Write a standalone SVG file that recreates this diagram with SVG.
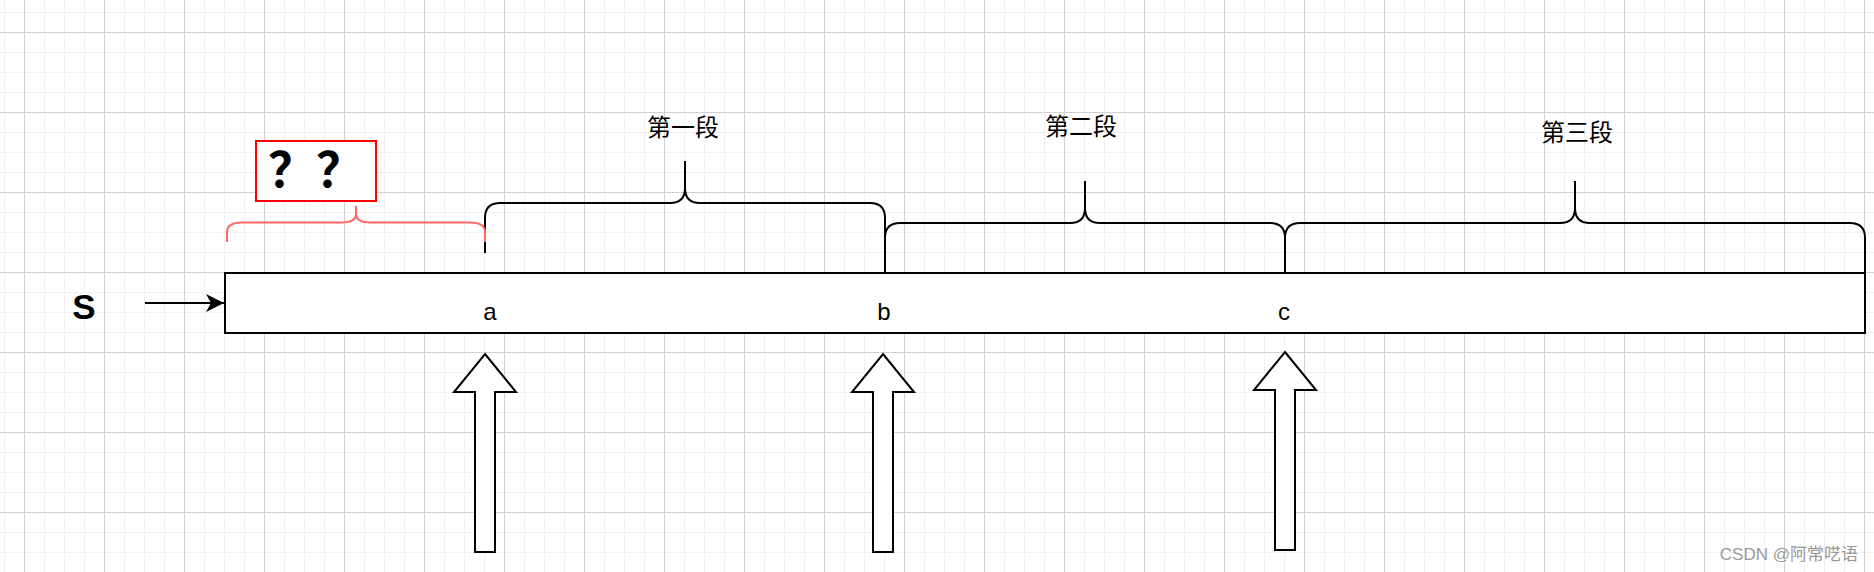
<svg xmlns="http://www.w3.org/2000/svg" width="1874" height="572" viewBox="0 0 1874 572">
<style>
.ln{fill:none;stroke:#000;stroke-width:2}
.red{fill:none;stroke:#FF6666;stroke-width:2}
.blk{fill:#fff;stroke:#000;stroke-width:2}
.lbl{font-family:"Noto Sans CJK SC","Liberation Sans",sans-serif;font-size:24px;fill:#000;text-anchor:middle}
.lat{font-family:"Liberation Sans",Arial,sans-serif;font-size:24px;fill:#000;text-anchor:middle}
</style>
<defs>
<pattern id="gmin" width="20" height="20" x="4" y="12" patternUnits="userSpaceOnUse">
<path d="M0.5,0 V20 M0,0.5 H20" stroke="#f0f0f0" stroke-width="1" fill="none"/>
</pattern>
<pattern id="gmaj" width="80" height="80" x="24" y="32" patternUnits="userSpaceOnUse">
<path d="M0.5,0 V80 M0,0.5 H80" stroke="#d0d0d0" stroke-width="1" fill="none"/>
</pattern>
<marker id="arr" markerUnits="userSpaceOnUse" markerWidth="20" markerHeight="20" viewBox="0 0 20 20" refX="18" refY="10" orient="auto">
<path d="M18,10 L0,1 L5,10 L0,19 Z" fill="#000"/>
</marker>
</defs>
<g id="background">
<rect width="1874" height="572" fill="#fff"/>
<rect width="1874" height="572" fill="url(#gmin)"/>
<rect width="1874" height="572" fill="url(#gmaj)"/>
</g>
<g id="bar">
<rect class="blk" x="225" y="273" width="1640" height="60"/>
<text class="lat" x="490" y="320">a</text>
<text class="lat" x="884" y="320">b</text>
<text class="lat" x="1284" y="320">c</text>
</g>
<g id="label-s">
<text x="84" y="319" font-family="Liberation Sans, Arial, sans-serif" font-size="35" font-weight="bold" text-anchor="middle">S</text>
</g>
<g id="brace-1">
<path class="ln" d="M485,253 V218 Q485,203 500,203 H670 Q685,203 685,188 V161 M685,188 Q685,203 700,203 H870 Q885,203 885,218 V253"/>
<text class="lbl" x="683" y="136">第一段</text>
</g>
<g id="brace-2">
<path class="ln" d="M885,273 V238 Q885,223 900,223 H1070 Q1085,223 1085,208 V181 M1085,208 Q1085,223 1100,223 H1270 Q1285,223 1285,238 V273"/>
<text class="lbl" x="1081" y="135">第二段</text>
</g>
<g id="brace-3">
<path class="ln" d="M1285,273 V238 Q1285,223 1300,223 H1560 Q1575,223 1575,208 V181 M1575,208 Q1575,223 1590,223 H1850 Q1865,223 1865,238 V273"/>
<text class="lbl" x="1577" y="141">第三段</text>
</g>
<g id="brace-red">
<path class="red" d="M227,242 V232 Q227,222.5 242,222.5 H341 Q356,222.5 356,214 V206 M356,214 Q356,222.5 371,222.5 H470 Q485,222.5 485,232 V242"/>
</g>
<g id="question">
<rect x="256" y="141" width="120" height="60" fill="#fff" stroke="#FF0000" stroke-width="2"/>
<text x="316" y="187" font-family="Noto Sans CJK SC, sans-serif" font-size="48" font-weight="bold" text-anchor="middle">？？</text>
</g>
<g id="arrow-a">
<path class="blk" d="M485,354 L516,392 L495,392 L495,552 L475,552 L475,392 L454,392 Z"/>
</g>
<g id="arrow-b">
<path class="blk" d="M883,354 L914,392 L893,392 L893,552 L873,552 L873,392 L852,392 Z"/>
</g>
<g id="arrow-c">
<path class="blk" d="M1285,352 L1316,390 L1295,390 L1295,550 L1275,550 L1275,390 L1254,390 Z"/>
</g>
<g id="connectors">
<line x1="145" y1="303" x2="224" y2="303" stroke="#000" stroke-width="2" marker-end="url(#arr)"/>
</g>
<g id="watermark">
<text x="1858" y="560" text-anchor="end" font-family="Liberation Sans, Noto Sans CJK SC, sans-serif" font-size="17" fill="#999">CSDN @阿常呓语</text>
</g>
</svg>
